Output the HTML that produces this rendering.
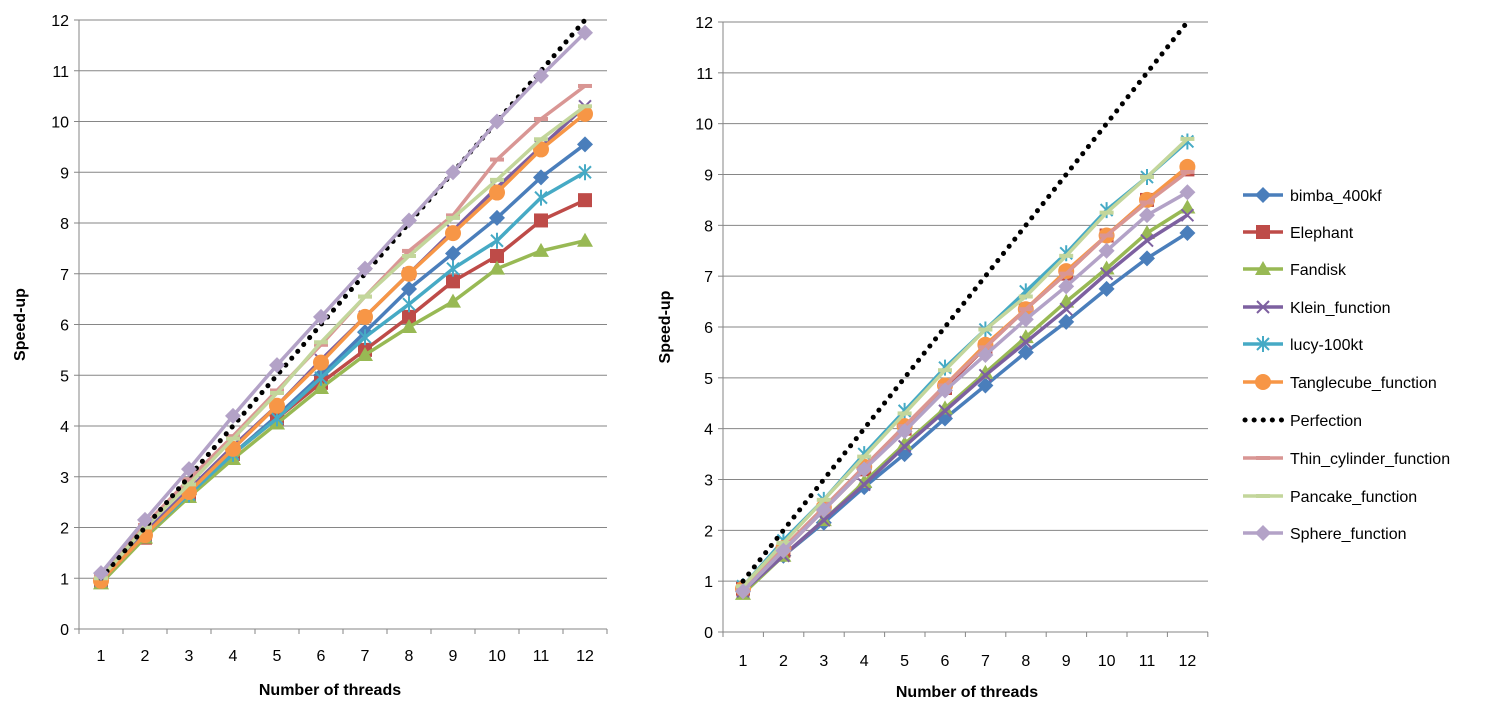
<!DOCTYPE html>
<html><head><meta charset="utf-8"><style>
body{margin:0;background:#fff}
svg text{font-family:"Liberation Sans",Arial,sans-serif;fill:#000}
</style></head><body>
<svg id="s" width="1508" height="710" xmlns="http://www.w3.org/2000/svg"></svg>
<script>
const S=document.getElementById('s');let h='';
const names=["bimba_400kf","Elephant","Fandisk","Klein_function","lucy-100kt","Tanglecube_function","Perfection","Thin_cylinder_function","Pancake_function","Sphere_function"];
const cols=["#4a7ebb","#be4b48","#98b954","#7d60a0","#46aac5","#f79646","#000","#d99694","#c3d69b","#b3a2c7"];
const mk=["d","s","t","x","a","c","n","b","b","d"];
const L=[[0.95,1.85,2.65,3.45,4.2,5.0,5.85,6.7,7.4,8.1,8.9,9.55],
[0.95,1.8,2.65,3.45,4.15,4.85,5.5,6.15,6.85,7.35,8.05,8.45],
[0.9,1.8,2.6,3.35,4.05,4.75,5.4,5.95,6.45,7.1,7.45,7.65],
[0.95,1.9,2.75,3.6,4.4,5.3,6.15,7.0,7.85,8.7,9.5,10.3],
[0.95,1.85,2.65,3.45,4.15,4.95,5.75,6.4,7.1,7.65,8.5,9.0],
[0.95,1.85,2.7,3.55,4.4,5.25,6.15,7.0,7.8,8.6,9.45,10.15],
[1,2,3,4,5,6,7,8,9,10,11,12],
[1.05,2.05,2.95,3.8,4.7,5.6,6.55,7.45,8.15,9.25,10.05,10.7],
[1.0,2.0,2.85,3.75,4.65,5.65,6.55,7.35,8.1,8.85,9.65,10.3],
[1.1,2.15,3.15,4.2,5.2,6.15,7.1,8.05,9.0,10.0,10.9,11.75]];
const R=[[0.8,1.5,2.15,2.85,3.5,4.2,4.85,5.5,6.1,6.75,7.35,7.85],
[0.85,1.6,2.4,3.2,4.0,4.8,5.6,6.35,7.05,7.8,8.5,9.1],
[0.75,1.5,2.2,2.95,3.7,4.4,5.1,5.8,6.5,7.15,7.85,8.35],
[0.8,1.5,2.2,2.9,3.65,4.35,5.05,5.7,6.35,7.05,7.7,8.2],
[0.9,1.8,2.6,3.5,4.35,5.2,5.95,6.7,7.45,8.3,8.95,9.65],
[0.85,1.65,2.45,3.25,4.05,4.85,5.65,6.35,7.1,7.8,8.5,9.15],
[1,2,3,4,5,6,7,8,9,10,11,12],
[0.85,1.65,2.45,3.25,4.05,4.85,5.6,6.35,7.05,7.8,8.45,9.05],
[0.9,1.75,2.6,3.45,4.3,5.15,5.95,6.6,7.4,8.25,8.95,9.7],
[0.8,1.6,2.4,3.2,3.95,4.75,5.45,6.15,6.8,7.5,8.2,8.65]];
function marker(t,x,y,c){
 if(t=="d")return `<path d="M${x} ${y-8}L${x+8} ${y}L${x} ${y+8}L${x-8} ${y}Z" fill="${c}"/>`;
 if(t=="s")return `<rect x="${x-7}" y="${y-7}" width="14" height="14" fill="${c}"/>`;
 if(t=="t")return `<path d="M${x} ${y-8}L${x+8} ${y+6}L${x-8} ${y+6}Z" fill="${c}"/>`;
 if(t=="c")return `<circle cx="${x}" cy="${y}" r="8" fill="${c}"/>`;
 if(t=="x")return `<path d="M${x-6} ${y-6}L${x+6} ${y+6}M${x-6} ${y+6}L${x+6} ${y-6}" stroke="${c}" stroke-width="2"/>`;
 if(t=="a")return `<path d="M${x-6} ${y-6}L${x+6} ${y+6}M${x-6} ${y+6}L${x+6} ${y-6}M${x} ${y-8}V${y+8}" stroke="${c}" stroke-width="2"/>`;
 if(t=="b")return `<path d="M${x-7} ${y}H${x+7}" stroke="${c}" stroke-width="4"/>`;
 return '';
}
function chart(ax,top,bot,x1,dx,right,lblY,titleX,titleY,spX,D){
 const u=(bot-top)/12;
 for(let i=0;i<=12;i++){const y=bot-i*u;
  if(i>0)h+=`<line x1="${ax}" y1="${y}" x2="${right}" y2="${y}" stroke="#868686" stroke-width="1"/>`;
  h+=`<line x1="${ax-5}" y1="${y}" x2="${ax}" y2="${y}" stroke="#868686"/>`;
  h+=`<text x="${ax-10}" y="${y+6}" font-size="16" text-anchor="end">${i}</text>`;}
 h+=`<line x1="${ax}" y1="${top}" x2="${ax}" y2="${bot}" stroke="#868686"/>`;
 h+=`<line x1="${ax}" y1="${bot}" x2="${right}" y2="${bot}" stroke="#868686"/>`;
 for(let i=0;i<=12;i++){const x=ax+i*dx;h+=`<line x1="${x}" y1="${bot}" x2="${x}" y2="${bot+5}" stroke="#868686"/>`;}
 for(let i=0;i<12;i++)h+=`<text x="${x1+i*dx}" y="${lblY}" font-size="16" text-anchor="middle">${i+1}</text>`;
 h+=`<text x="${titleX}" y="${titleY}" font-size="16" font-weight="bold" text-anchor="middle">Number of threads</text>`;
 h+=`<text transform="translate(${spX},${(top+bot)/2}) rotate(-90)" font-size="16" font-weight="bold" text-anchor="middle">Speed-up</text>`;
 const order=[0,1,2,3,4,5,7,8,6,9];
 for(const k of order){const p=D[k].map((v,i)=>[x1+i*dx,bot-v*u]);
  if(k==6){h+=`<polyline points="${p.map(q=>q.join(',')).join(' ')}" fill="none" stroke="#000" stroke-width="5" stroke-dasharray="0.1 9" stroke-linecap="round"/>`;continue;}
  h+=`<polyline points="${p.map(q=>q.join(',')).join(' ')}" fill="none" stroke="${cols[k]}" stroke-width="3.5"/>`;
  for(const q of p)h+=marker(mk[k],q[0],q[1],cols[k]);}
}
chart(79,20,629,101,44,607,661,330,695,25,L);
chart(723,22,632,743,40.4,1208,666,967,697,670,R);
const ly=[195,232,269,307,344,382,420,458,496,533];
for(let k=0;k<10;k++){const y=ly[k];
 if(k==6)h+=`<line x1="1245" y1="${y}" x2="1283" y2="${y}" stroke="#000" stroke-width="5" stroke-dasharray="0.1 9" stroke-linecap="round"/>`;
 else{h+=`<line x1="1243" y1="${y}" x2="1283" y2="${y}" stroke="${cols[k]}" stroke-width="3.5"/>`;h+=marker(mk[k],1263,y,cols[k]);}
 h+=`<text x="1290" y="${y+6}" font-size="16">${names[k]}</text>`;}
S.innerHTML=h;
</script>
</body></html>
